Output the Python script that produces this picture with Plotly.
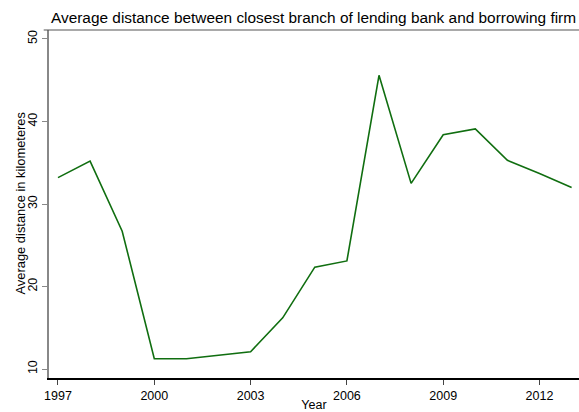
import plotly.graph_objects as go

# Average distance (km) between the closest branch of the lending bank and the borrowing firm
years = [1997, 1998, 1999, 2000, 2001, 2002, 2003, 2004, 2005, 2006,
         2007, 2008, 2009, 2010, 2011, 2012, 2013]
avg_distance_km = [33.2, 35.2, 26.7, 11.25, 11.25, 11.7, 12.1, 16.2, 22.35, 23.1,
                   45.6, 32.5, 38.4, 39.1, 35.3, 33.7, 32.0]

x_ticks = [1997, 2000, 2003, 2006, 2009, 2012]
y_ticks = [10, 20, 30, 40, 50]

W, H = 579, 412
L, R, T, B = 49, 0, 30, 34
plot_w, plot_h = W - L - R, H - T - B

fig = go.Figure()
fig.add_trace(go.Scatter(
    x=years, y=avg_distance_km, mode="lines",
    line=dict(color="#106e10", width=1.6),
    hoverinfo="x+y", showlegend=False,
))

font = "Arial, Liberation Sans, sans-serif"

fig.update_layout(
    width=W, height=H,
    margin=dict(l=L, r=R, t=T, b=B),
    paper_bgcolor="white", plot_bgcolor="white",
    font=dict(family=font, size=12.5, color="black"),
    title=dict(
        text="Average distance between closest branch of lending bank and borrowing firm",
        x=51 / W, xanchor="left", xref="container",
        y=1 - 18 / H, yanchor="middle", yref="container",
        font=dict(family=font, size=15.4, color="black"),
    ),
    xaxis=dict(
        range=[1996.72, 2013.23],
        tickmode="array", tickvals=x_ticks, ticktext=[str(t) for t in x_ticks],
        showgrid=False, zeroline=False,
        showline=True, linecolor="black", linewidth=1.5,
        ticks="outside", ticklen=5, tickwidth=1, tickcolor="#444",
        title=dict(text="Year", standoff=1, font=dict(size=12.5)),
        automargin=False,
    ),
    yaxis=dict(
        range=[8.91, 51.09],
        tickmode="array", tickvals=y_ticks, ticktext=[str(t) for t in y_ticks],
        tickangle=-90,
        showgrid=False, zeroline=False,
        showline=True, linecolor="#888", linewidth=1.5,
        ticks="outside", ticklen=5, tickwidth=1, tickcolor="#888",
        automargin=False,
    ),
    annotations=[dict(
        text="Average distance in kilometeres",
        textangle=-90, showarrow=False,
        xref="paper", yref="paper",
        x=(20 - L) / plot_w, y=(H - B - 203.5) / plot_h,
        xanchor="center", yanchor="middle",
        font=dict(family=font, size=12.9, color="black"),
    )],
    shapes=[dict(
        type="line", xref="paper", yref="paper",
        x0=-0.01, x1=1, y0=1, y1=1,
        line=dict(color="#555", width=1.2),
    )],
)

fig.write_html("out.html")
